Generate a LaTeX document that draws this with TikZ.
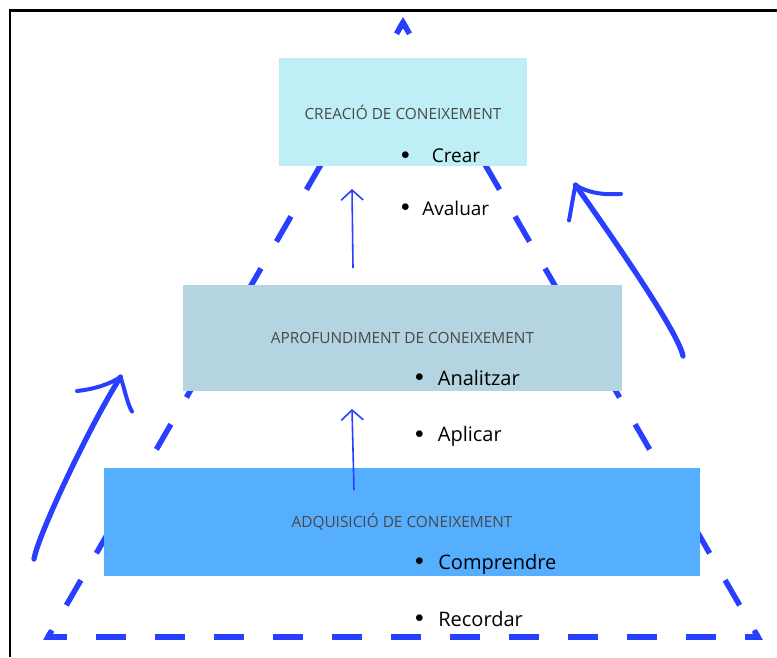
\documentclass[tikz,border=0pt]{standalone}
\usepackage{fontspec}
\setmainfont{Open Sans}
\usetikzlibrary{arrows.meta}
\definecolor{pyrblue}{RGB}{40,63,255}
\definecolor{boxtop}{RGB}{191,239,246}
\definecolor{boxmid}{RGB}{179,212,224}
\definecolor{boxlow}{RGB}{86,174,255}
\definecolor{titlegray}{RGB}{72,72,72}
\newcommand{\dotitem}{\raisebox{3.4pt}{\fontsize{18}{20}\selectfont$\bullet$}}

\begin{document}
\begin{tikzpicture}[x=1pt,y=-1pt,
    lvl/.style={rectangle,inner sep=0pt,text=titlegray,font=\fontsize{15.4}{18}\selectfont},
    itm/.style={anchor=base west,inner sep=0pt,font=\fontsize{20}{24}\selectfont},
    side/.style={pyrblue,line width=5.5pt,dash pattern=on 29pt off 31pt,dash phase=16pt},
    base/.style={pyrblue,line width=5.5pt,dash pattern=on 30pt off 29pt,dash phase=11pt},
    smallarr/.style={pyrblue,line width=1.6pt,-{Straight Barb[length=10pt,width=22pt]}},
    hand/.style={pyrblue,line width=5.3pt,line cap=round,line join=round},
    barb/.style={pyrblue,line width=4pt,line cap=round}]
    \useasboundingbox (0,0) rectangle (777,657);
    \draw[black,line width=2.3pt] (10,657) -- (10,10.5) -- (777,10.5);
    % pyramid
    \coordinate (apex) at (403,22.5);
    \coordinate (bl) at (48,637);
    \coordinate (br) at (758,637);
    \draw[side] (apex) -- (bl);
    \draw[side] (apex) -- (br);
    \draw[base] (bl) -- (br);
    \begin{scope}
    \clip (apex) circle (8) (bl) circle (8) (br) circle (8);
    \draw[pyrblue,line width=5.5pt,miter limit=10] (apex) -- (bl) -- (br) -- cycle;
    \end{scope}
    % levels
    \node[lvl,fill=boxtop,minimum width=248pt,minimum height=108pt] (top) at (403,112) {CREACIÓ DE CONEIXEMENT};
    \node[lvl,fill=boxmid,minimum width=439pt,minimum height=106pt] (mid) at (402.5,338) {APROFUNDIMENT DE CONEIXEMENT};
    \node[lvl,fill=boxlow,minimum width=596pt,minimum height=108pt] (low) at (402,522) {ADQUISICIÓ DE CONEIXEMENT};
    \node[itm,font=\fontsize{19}{23}\selectfont] (crear) at (401,162.5) {\dotitem\hspace{22pt}Crear};
    \node[itm,font=\fontsize{19}{23}\selectfont] (avaluar) at (401,215) {\dotitem\hspace{12.5pt}Avaluar};
    \node[itm] (analitzar) at (415,385) {\dotitem\hspace{14pt}Analitzar};
    \node[itm] (aplicar) at (415,441.5) {\dotitem\hspace{14pt}Aplicar};
    \node[itm] (comprendre) at (415,569) {\dotitem\hspace{14.5pt}Comprendre};
    \node[itm] (recordar) at (415,626) {\dotitem\hspace{14.5pt}Recordar};
    % arrows
    \coordinate (up1) at (353,268);
    \coordinate (up1t) at (352,189);
    \coordinate (up2) at (354,490);
    \coordinate (up2t) at (352,409);
    \draw[smallarr] (up1) -- (up1t);
    \draw[smallarr] (up2) -- (up2t);
    \coordinate (lt) at (120.5,377);
    \coordinate (rt) at (575.5,185);
    \draw[hand] (34,559) .. controls (38,535) and (90,425) .. (lt);
    \draw[barb] (lt) .. controls (110,384) and (95,389) .. (77,391);
    \draw[barb] (lt) .. controls (125,390) and (127,403) .. (132,411.5);
    \draw[hand] (683,356) .. controls (678,330) and (600,220) .. (rt);
    \draw[barb] (rt) .. controls (588,193) and (603,195) .. (621,194);
    \draw[barb] (rt) .. controls (573,197) and (571,210) .. (569,220.5);
\end{tikzpicture}
\end{document}
